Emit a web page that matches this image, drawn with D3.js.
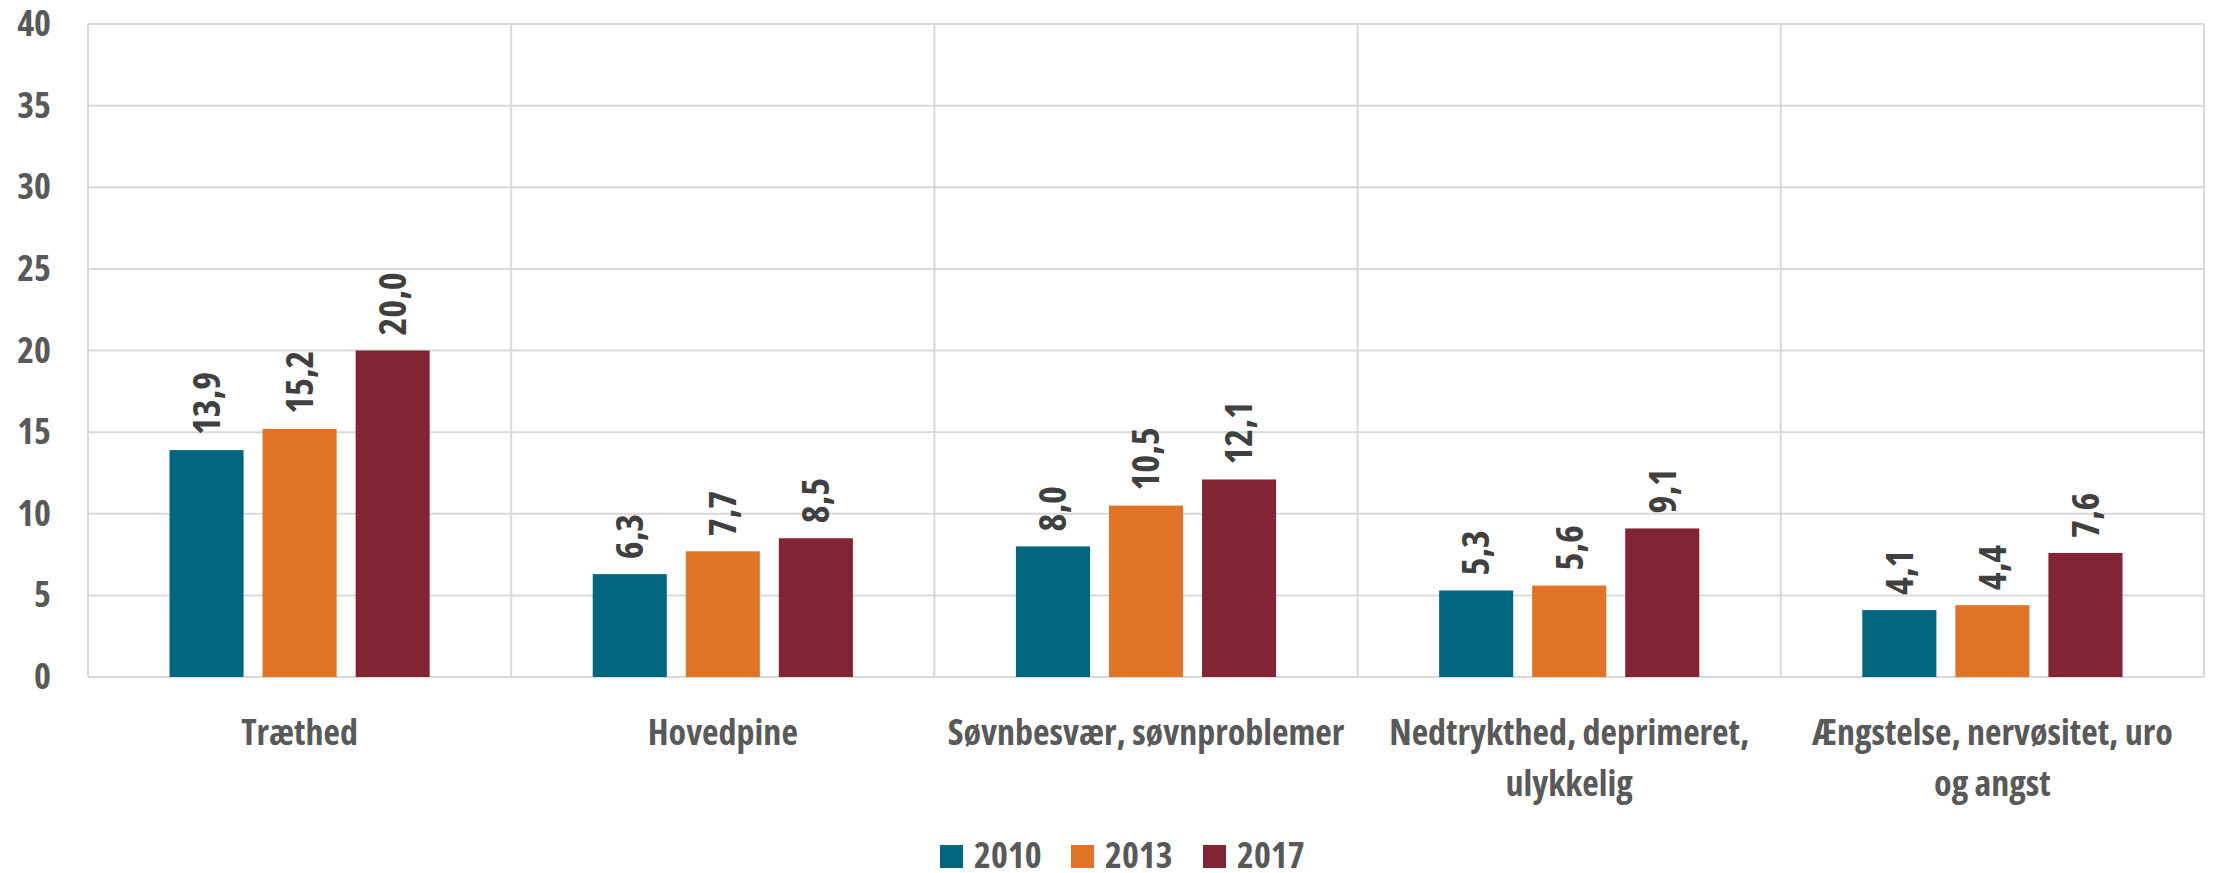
<!DOCTYPE html>
<html>
<head>
<meta charset="utf-8">
<script src="https://cdn.jsdelivr.net/npm/d3@7"></script>
<style>
  body { margin: 0; background: #fff; }
  svg text { font-family: "Open Sans", sans-serif; font-weight: 700; font-stretch: 75%; }
</style>
</head>
<body>
<div id="chart"></div>
<script>
const categories = [
  "Træthed",
  "Hovedpine",
  "Søvnbesvær, søvnproblemer",
  "Nedtrykthed, deprimeret,\nulykkelig",
  "Ængstelse, nervøsitet, uro\nog angst"
];
const years = ["2010", "2013", "2017"];
const v2010 = [13.9, 6.3, 8.0, 5.3, 4.1];
const v2013 = [15.2, 7.7, 10.5, 5.6, 4.4];
const v2017 = [20.0, 8.5, 12.1, 9.1, 7.6];
const yTicks = [0, 5, 10, 15, 20, 25, 30, 35, 40];
const colors = ["#00677f", "#e07325", "#822433"];

const W = 2216, H = 873;
const margin = { top: 24, right: 12, bottom: 196, left: 88 };
const width = W - margin.left - margin.right;
const height = H - margin.top - margin.bottom;

const svg = d3.select("#chart").append("svg")
  .attr("width", W)
  .attr("height", H)
  .append("g")
  .attr("transform", `translate(${margin.left},${margin.top})`);

const x0 = d3.scaleBand().domain(categories).range([0, width]).padding(0);
const x1 = d3.scaleBand().domain(years).range([0, x0.bandwidth()])
  .paddingInner(0.204).paddingOuter(0.876);
const y = d3.scaleLinear().domain([0, 40]).range([height, 0]);

// horizontal gridlines
svg.append("g")
  .selectAll("line")
  .data(yTicks)
  .join("line")
  .attr("x1", 0).attr("x2", width)
  .attr("y1", d => y(d)).attr("y2", d => y(d))
  .attr("stroke", "#d9d9d9")
  .attr("stroke-width", 2);

// vertical category separators + borders
const seps = categories.map(c => x0(c)).concat([width]);
svg.append("g")
  .selectAll("line")
  .data(seps)
  .join("line")
  .attr("x1", d => d).attr("x2", d => d)
  .attr("y1", 0).attr("y2", height)
  .attr("stroke", "#d9d9d9")
  .attr("stroke-width", 2);

// y axis labels
svg.append("g")
  .call(d3.axisLeft(y).tickValues(yTicks).tickSize(0).tickPadding(37))
  .call(g => g.select(".domain").remove())
  .selectAll("text")
  .style("font-size", "36px")
  .attr("fill", "#595959");

const series = [v2010, v2013, v2017];
const data = categories.map((c, i) => years.map((yr, j) => ({ cat: c, year: yr, value: series[j][i], col: colors[j] })));

const groups = svg.append("g")
  .selectAll("g")
  .data(data)
  .join("g")
  .attr("transform", (d, i) => `translate(${x0(categories[i])},0)`);

groups.selectAll("rect")
  .data(d => d)
  .join("rect")
  .attr("x", d => x1(d.year))
  .attr("y", d => y(d.value))
  .attr("width", x1.bandwidth())
  .attr("height", d => height - y(d.value))
  .attr("fill", d => d.col);

const fmt = v => d3.format(".1f")(v).replace(".", ",");

groups.selectAll("text.val")
  .data(d => d)
  .join("text")
  .attr("class", "val")
  .attr("transform", d => `translate(${x1(d.year) + x1.bandwidth() / 2},${y(d.value) - 15}) rotate(-90)`)
  .attr("dy", "0.35em")
  .style("font-size", "38px")
  .attr("fill", "#404040")
  .text(d => fmt(d.value));

// category labels
const catLabels = svg.append("g")
  .selectAll("text")
  .data(categories)
  .join("text")
  .attr("x", d => x0(d) + x0.bandwidth() / 2)
  .attr("y", height + 68)
  .attr("text-anchor", "middle")
  .style("font-size", "36px")
  .attr("fill", "#595959");

catLabels.selectAll("tspan")
  .data(d => d.split("\n"))
  .join("tspan")
  .attr("x", function() { return d3.select(this.parentNode).attr("x"); })
  .attr("dy", (d, i) => i === 0 ? 0 : 51)
  .text(d => d);

// legend
const legend = svg.append("g")
  .attr("transform", `translate(${852},${height + 191})`);

const legX = [0, 131, 263];
years.forEach((yr, i) => {
  legend.append("rect")
    .attr("x", legX[i]).attr("y", -23)
    .attr("width", 23).attr("height", 23)
    .attr("fill", colors[i]);
  legend.append("text")
    .attr("x", legX[i] + 34).attr("y", 0)
    .style("font-size", "36px")
    .attr("fill", "#595959")
    .text(yr);
});
</script>
</body>
</html>
